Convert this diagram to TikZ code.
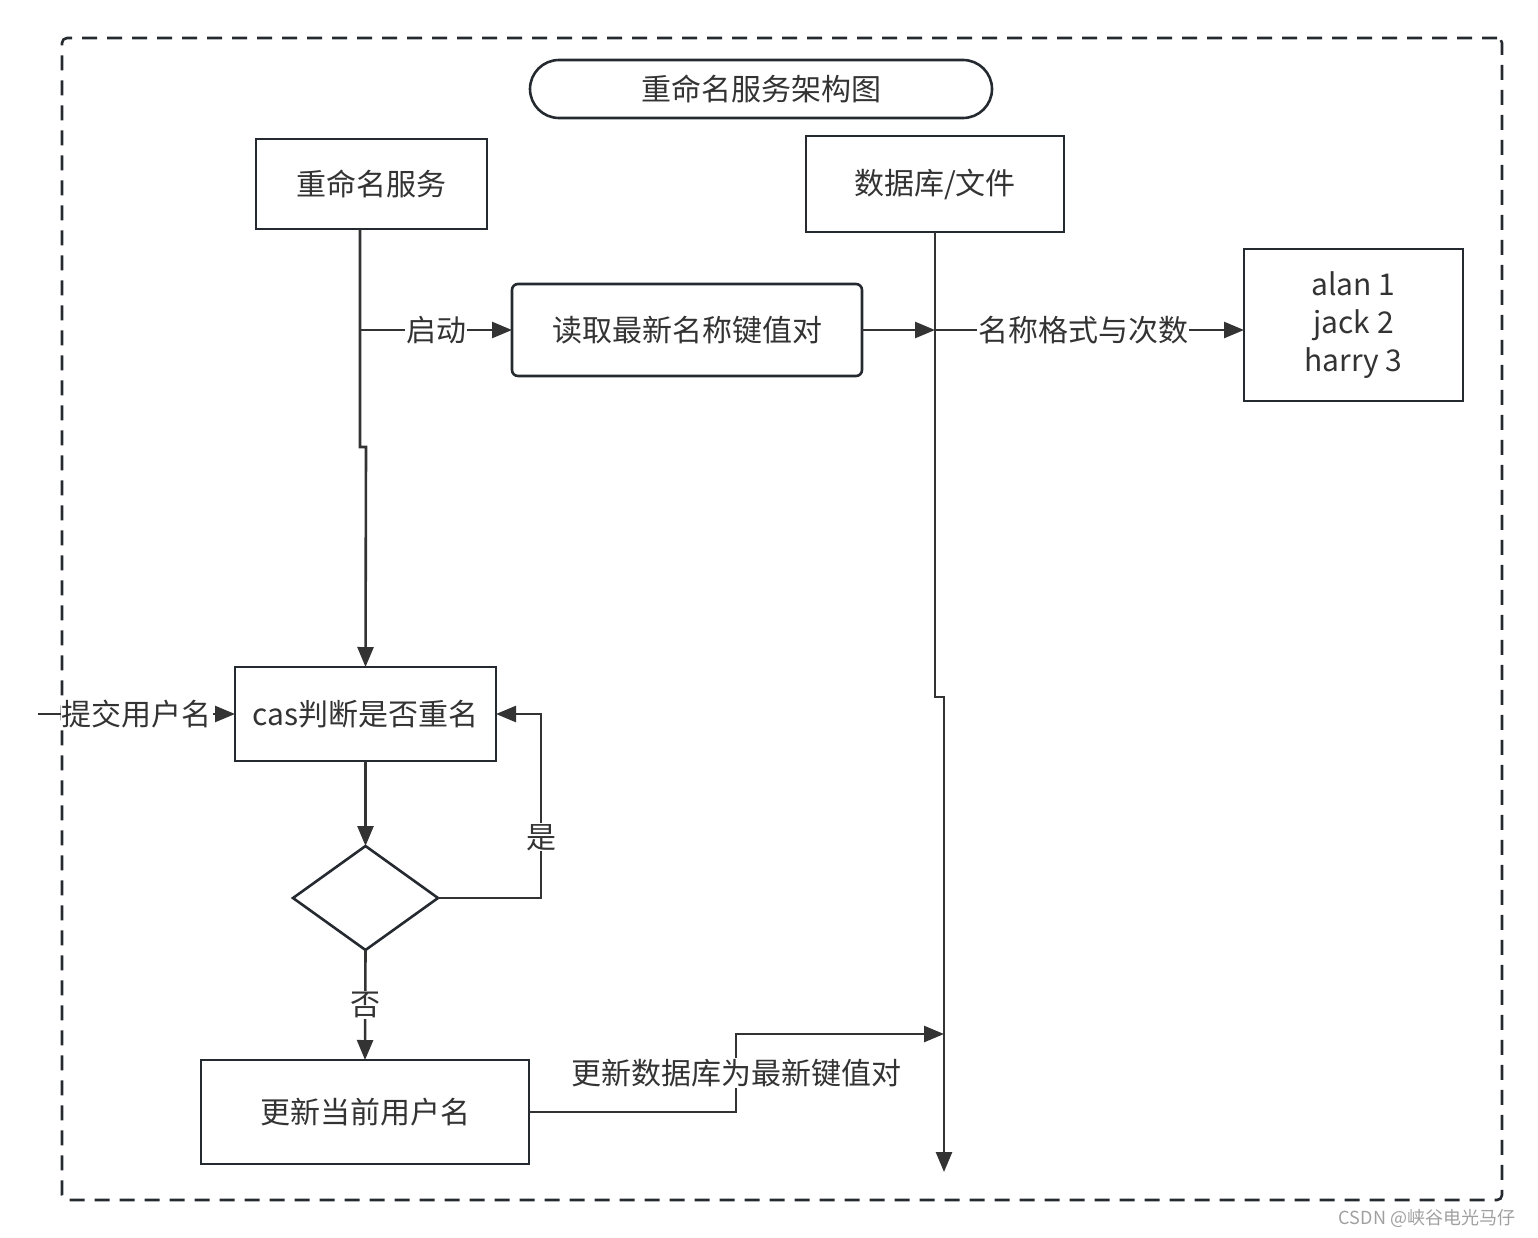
\documentclass[tikz,border=0pt]{standalone}
\usepackage{fontspec}
\setmainfont{Noto Sans CJK SC}
\usetikzlibrary{shapes.geometric,arrows.meta}
\definecolor{linec}{HTML}{333333}
\definecolor{boxc}{HTML}{252A31}
\definecolor{txtc}{HTML}{333333}
\definecolor{wmc}{HTML}{A0A0A0}
\tikzset{
  box/.style={draw=boxc, line width=2.6pt, inner sep=0pt, outer sep=0pt, text=txtc, align=center},
  conn/.style={draw=linec, line width=2.6pt},
  arr/.style={-{Triangle[length=20pt,width=16pt]}},
  lbl/.style={fill=white, text=txtc, inner sep=1pt},
}
\begin{document}
\begin{tikzpicture}[x=1pt,y=-1pt,font=\fontsize{30}{38}\selectfont]
\useasboundingbox (0,0) rectangle (1538,1237);
\node[draw=boxc, line width=2.6pt, dash pattern=on 15pt off 10pt, rounded corners=5pt, minimum width=1440pt, minimum height=1162pt, inner sep=0pt] (frame) at (782,619) {};
\node[box, rounded corners=29pt, minimum width=462pt, minimum height=58pt] (title) at (761,89) {重命名服务架构图};
\node[box, minimum width=231pt, minimum height=90pt] (svc) at (371.5,184) {重命名服务};
\node[box, minimum width=258pt, minimum height=96pt] (db) at (935,184) {数据库/文件};
\node[box, rounded corners=6pt, minimum width=350pt, minimum height=92pt] (read) at (687,330) {读取最新名称键值对};
\node[box, minimum width=219pt, minimum height=152pt] (kv) at (1353.5,325) {alan 1\\jack 2\\harry 3};
\node[box, minimum width=261pt, minimum height=94pt] (cas) at (365.5,714) {cas判断是否重名};
\node[box, diamond, aspect=1.394, minimum width=145pt, minimum height=104pt] (dia) at (365.5,898) {};
\node[box, minimum width=328pt, minimum height=104pt] (upd) at (365,1112) {更新当前用户名};
\coordinate (s0) at (360,229);
\coordinate (b0) at (360,330);
\coordinate (r1) at (935,330);
\coordinate (in0) at (38,714);
\coordinate (dend) at (944,1172);
\coordinate (uin) at (944,1034);
% service to cas
\draw[conn,arr] (s0) -- (360,447) -- (366,447) -- (cas.north);
\draw[conn,arr] (b0) -- node[lbl]{启动} (read.west);
% read to db line
\draw[conn,arr] (read.east) -- (r1);
\draw[conn,arr] (r1) -- node[lbl,pos=0.48]{名称格式与次数} (kv.west |- r1);
% db lifeline
\draw[conn,arr] (db.south) -- (935,697) -- (944,697) -- (dend);
% cas to diamond
\draw[conn,arr] (cas.south) -- (dia.north);
\draw[conn,arr] (dia.east) -- (541,898) -- node[lbl,pos=0.33]{是} (541,714) -- (cas.east);
\draw[conn,arr] (dia.south) -- node[lbl]{否} (upd.north);
% update to db
\draw[conn,arr] (upd.east) -- (736,1112) -- node[lbl]{更新数据库为最新键值对} (736,1034) -- (uin);
% submit
\draw[conn,arr] (in0) -- node[lbl]{提交用户名} (cas.west);
% watermark
\node[text=wmc, font=\fontsize{18}{20}\selectfont, inner sep=0pt] (wm) at (1427,1218) {CSDN @峡谷电光马仔};
\end{tikzpicture}
\end{document}
